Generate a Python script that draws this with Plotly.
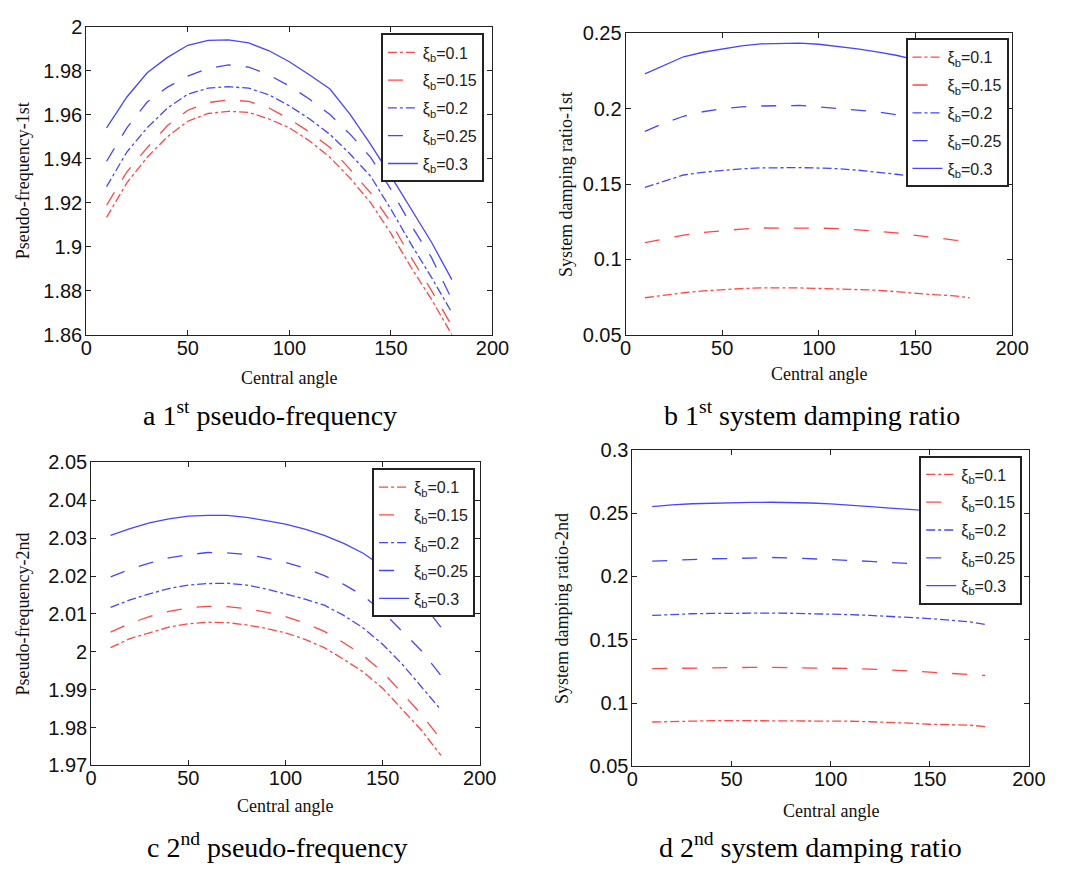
import plotly.graph_objects as go

# ---------------- data ----------------
angle_a = [10, 20, 30, 40, 50, 60, 70, 80, 90, 100, 110, 120, 130, 140, 150, 160, 170, 180]
freq1 = {
    "0.1":  [1.9133, 1.929, 1.9406, 1.950, 1.957, 1.9605, 1.9615, 1.961, 1.958, 1.954, 1.948, 1.9406, 1.931, 1.920, 1.906, 1.8905, 1.876, 1.860],
    "0.15": [1.9188, 1.934, 1.945, 1.955, 1.962, 1.9655, 1.9667, 1.966, 1.963, 1.958, 1.952, 1.945, 1.935, 1.9244, 1.911, 1.895, 1.880, 1.864],
    "0.2":  [1.9273, 1.943, 1.954, 1.963, 1.9693, 1.972, 1.9727, 1.972, 1.969, 1.964, 1.958, 1.951, 1.942, 1.932, 1.917, 1.901, 1.886, 1.870],
    "0.25": [1.9388, 1.954, 1.9657, 1.9725, 1.9775, 1.981, 1.9826, 1.9816, 1.978, 1.973, 1.967, 1.960, 1.951, 1.9406, 1.926, 1.9097, 1.895, 1.876],
    "0.3":  [1.954, 1.968, 1.979, 1.986, 1.9915, 1.9937, 1.994, 1.9926, 1.989, 1.984, 1.978, 1.9716, 1.960, 1.9465, 1.932, 1.917, 1.902, 1.885],
}
angle_b = [10, 20, 30, 40, 50, 60, 70, 80, 90, 100, 110, 120, 130, 140, 150, 160, 170, 178]
damp1 = {
    "0.1":  [0.0745, 0.0762, 0.0778, 0.079, 0.0799, 0.0806, 0.081, 0.0811, 0.081, 0.0807, 0.0803, 0.080, 0.0795, 0.0785, 0.0773, 0.0765, 0.0758, 0.0745],
    "0.15": [0.1111, 0.1138, 0.116, 0.1178, 0.1191, 0.1201, 0.1208, 0.1209, 0.1208, 0.1207, 0.1204, 0.1196, 0.1187, 0.1175, 0.116, 0.1145, 0.1128, 0.1122],
    "0.2":  [0.1477, 0.152, 0.156, 0.1578, 0.1591, 0.1601, 0.1607, 0.1609, 0.1609, 0.1606, 0.1602, 0.1592, 0.158, 0.1565, 0.1548, 0.153, 0.151, 0.1488],
    "0.25": [0.185, 0.1905, 0.195, 0.198, 0.200, 0.2012, 0.2018, 0.2021, 0.2022, 0.2012, 0.200, 0.199, 0.1979, 0.196, 0.1935, 0.1905, 0.1875, 0.185],
    "0.3":  [0.2231, 0.229, 0.2345, 0.2375, 0.2399, 0.2418, 0.2431, 0.2435, 0.2435, 0.2428, 0.2414, 0.2397, 0.2377, 0.2355, 0.2325, 0.229, 0.2255, 0.2225],
}
angle_c = [10, 20, 30, 40, 50, 60, 70, 80, 90, 100, 110, 120, 130, 140, 150, 160, 170, 180]
freq2 = {
    "0.1":  [2.0011, 2.0035, 2.005, 2.0065, 2.0074, 2.0078, 2.0077, 2.0071, 2.0062, 2.005, 2.0033, 2.0011, 1.998, 1.9947, 1.9904, 1.9848, 1.9793, 1.9727],
    "0.15": [2.0052, 2.0075, 2.0093, 2.0107, 2.0116, 2.012, 2.0119, 2.0114, 2.0105, 2.0093, 2.0076, 2.0054, 2.0024, 1.999, 1.9947, 1.9891, 1.9835, 1.9769],
    "0.2":  [2.0117, 2.0137, 2.0153, 2.0167, 2.0176, 2.018, 2.0181, 2.0176, 2.0166, 2.0153, 2.0139, 2.0123, 2.0096, 2.0063, 2.002, 1.9968, 1.9908, 1.9847],
    "0.25": [2.0198, 2.0218, 2.0234, 2.0248, 2.0256, 2.0262, 2.0261, 2.0257, 2.0247, 2.0236, 2.0221, 2.0201, 2.0178, 2.0148, 2.0106, 2.0054, 2.0003, 1.9938],
    "0.3":  [2.0307, 2.0325, 2.034, 2.0351, 2.0358, 2.036, 2.036, 2.0355, 2.0346, 2.0337, 2.0324, 2.0307, 2.0286, 2.026, 2.0225, 2.0183, 2.0131, 2.0065],
}
angle_d = [10, 20, 30, 40, 50, 60, 70, 80, 90, 100, 110, 120, 130, 140, 150, 160, 170, 178]
damp2 = {
    "0.1":  [0.0851, 0.0856, 0.0859, 0.0861, 0.0862, 0.0862, 0.0862, 0.0861, 0.086, 0.0859, 0.0857, 0.0853, 0.0849, 0.0842, 0.0833, 0.0829, 0.0826, 0.0815],
    "0.15": [0.1272, 0.1275, 0.1278, 0.128, 0.1282, 0.1282, 0.1282, 0.1281, 0.1279, 0.1277, 0.1273, 0.1268, 0.1262, 0.1254, 0.1244, 0.1235, 0.1226, 0.1218],
    "0.2":  [0.1692, 0.17, 0.1705, 0.1708, 0.171, 0.171, 0.171, 0.1709, 0.1707, 0.1703, 0.1698, 0.1692, 0.1685, 0.1676, 0.1667, 0.1655, 0.1641, 0.162],
    "0.25": [0.212, 0.2128, 0.2135, 0.2139, 0.2141, 0.2145, 0.2149, 0.2146, 0.2141, 0.2133, 0.2126, 0.2118, 0.2108, 0.2102, 0.2097, 0.2087, 0.2078, 0.207],
    "0.3":  [0.2551, 0.2565, 0.2573, 0.2578, 0.2582, 0.2584, 0.2585, 0.2583, 0.2579, 0.2572, 0.2563, 0.2551, 0.2538, 0.2528, 0.2518, 0.2508, 0.2498, 0.249],
}

xi_labels = ["0.1", "0.15", "0.2", "0.25", "0.3"]
captions = ["a 1<sup>st</sup> pseudo-frequency", "b 1<sup>st</sup> system damping ratio",
            "c 2<sup>nd</sup> pseudo-frequency", "d 2<sup>nd</sup> system damping ratio"]
ytitles = ["Pseudo-frequency-1st", "System damping ratio-1st", "Pseudo-frequency-2nd", "System damping ratio-2nd"]
xtitle = "Central angle"

# ---------------- styles ----------------
RED = "rgb(255,70,70)"
BLUE = "rgb(70,70,255)"
styles = {
    "0.1": (RED, "dashdot"),
    "0.15": (RED, "longdash"),
    "0.2": (BLUE, "dashdot"),
    "0.25": (BLUE, "longdash"),
    "0.3": (BLUE, "solid"),
}

W, H = 1084, 873
def px_x(a, b):
    return [a / W, b / W]
def px_y(top, bottom):
    return [1 - bottom / H, 1 - top / H]

panels = [
    dict(data=freq1, x=angle_a, dom_x=px_x(82, 497), dom_y=px_y(16, 332), yr=[1.86, 2.0], dt=0.02,
         leg=(383, 23), ytx=17, xtitle_y=376, cap_y=413, cap_x=270),
    dict(data=damp1, x=angle_b, dom_x=px_x(633, 1028), dom_y=px_y(23, 332), yr=[0.05, 0.25], dt=0.05,
         leg=(919, 28), ytx=572, xtitle_y=372, cap_y=413, cap_x=823),
    dict(data=freq2, x=angle_c, dom_x=px_x(87, 484), dom_y=px_y(463, 774), yr=[1.97, 2.05], dt=0.01,
         leg=(374, 469), ytx=17, xtitle_y=816, cap_y=856, cap_x=277),
    dict(data=damp2, x=angle_d, dom_x=px_x(640, 1045), dom_y=px_y(450, 775), yr=[0.05, 0.3], dt=0.05,
         leg=(933, 456), ytx=568, xtitle_y=821, cap_y=856, cap_x=822),
]

fig = go.Figure()
annotations = []
serif = "Liberation Serif, Times New Roman, serif"
sans = "Liberation Sans, Arial, sans-serif"
for i, p in enumerate(panels):
    n = i + 1
    xa = "x" if n == 1 else f"x{n}"
    ya = "y" if n == 1 else f"y{n}"
    legname = "legend" if n == 1 else f"legend{n}"
    for lab in xi_labels:
        col, dash = styles[lab]
        fig.add_trace(go.Scatter(
            x=p["x"], y=p["data"][lab], mode="lines",
            line=dict(color=col, dash=dash, width=1.3),
            name=f"ξ<sub>b</sub>=" + lab, xaxis=xa, yaxis=ya, legend=legname,
            legendgroup=f"p{n}_{lab}",
        ))
    axis_common = dict(showline=True, linecolor="#222", linewidth=1, mirror="ticks",
                       ticks="inside", ticklen=5, tickcolor="#222", showgrid=False, zeroline=False,
                       tickfont=dict(family=sans, size=20, color="#111"))
    fig.update_layout(**{
        ("xaxis" if n == 1 else f"xaxis{n}"): dict(domain=p["dom_x"], range=[0, 200], dtick=50, tick0=0,
                                                   anchor=ya, ticklabelstandoff=-5, **axis_common),
        ("yaxis" if n == 1 else f"yaxis{n}"): dict(domain=p["dom_y"], range=p["yr"], dtick=p["dt"],
                                                   tick0=p["yr"][0], anchor=xa, ticklabelstandoff=-1, **axis_common),
        legname: dict(x=p["leg"][0] / W, y=1 - p["leg"][1] / H, xanchor="left", yanchor="top",
                      bgcolor="white", bordercolor="#222", borderwidth=2,
                      font=dict(family=sans, size=16, color="#222"),
                      tracegroupgap=4),
    })
    cy = (p["dom_y"][0] + p["dom_y"][1]) / 2
    cx = (p["dom_x"][0] + p["dom_x"][1]) / 2
    annotations.append(dict(text=xtitle, x=cx, y=1 - p["xtitle_y"] / H, xref="paper", yref="paper",
                            showarrow=False, font=dict(family=serif, size=18, color="#111"),
                            xanchor="center", yanchor="middle"))
    annotations.append(dict(text=ytitles[i], x=p["ytx"] / W, y=cy, xref="paper", yref="paper", textangle=-90,
                            showarrow=False, font=dict(family=serif, size=18, color="#111"),
                            xanchor="center", yanchor="middle"))
    annotations.append(dict(text=captions[i], x=p["cap_x"] / W, y=1 - p["cap_y"] / H,
                            xref="paper", yref="paper", showarrow=False,
                            font=dict(family=serif, size=28, color="#000"),
                            xanchor="center", yanchor="middle"))

fig.update_layout(width=W, height=H, margin=dict(l=0, r=0, t=0, b=0),
                  paper_bgcolor="white", plot_bgcolor="white", annotations=annotations)
fig.write_html("out.html")
